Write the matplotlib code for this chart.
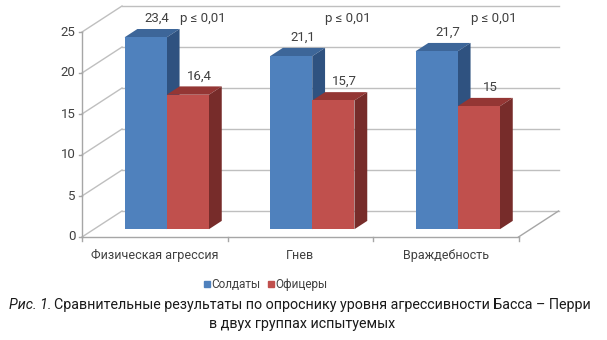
import matplotlib
matplotlib.use("Agg")
import matplotlib.pyplot as plt
from matplotlib.lines import Line2D

plt.rcParams['font.family'] = ['Roboto', 'DejaVu Sans']

categories = ['Физическая агрессия', 'Гнев', 'Враждебность']
soldiers = [23.4, 21.1, 21.7]
officers = [16.4, 15.7, 15.0]
series_names = ['Солдаты', 'Офицеры']
p_labels = ['p ≤ 0,01', 'p ≤ 0,01', 'p ≤ 0,01']
y_ticks = [0, 5, 10, 15, 20, 25]

# colours: front, top, side
BLUE = ('#4F81BD', '#3D6699', '#2F5280')
RED = ('#C0504D', '#943634', '#772C2A')
GRID = '#BFBFBF'
AXC = '#A6A6A6'
TXT = '#404040'

# oblique "3D" geometry in data units (x: category units, y: values)
DX, DY = 0.275, 3.17      # full depth of the floor / walls
F0, FB = 0.30, 0.32       # bar front depth fraction, bar depth fraction
W = 0.29                  # bar width
ymax = 25

fig = plt.figure(figsize=(6.07, 3.40), dpi=100)
ax = fig.add_axes([0, 0, 1, 1])
# map data to pixels: x px = 82 + 145.5*x, y px = 237 - 8.2*v
ax.set_xlim(-82 / 145.5, (607 - 82) / 145.5)
ax.set_ylim((237 - 340) / 8.2, 237 / 8.2)
ax.axis('off')

n = len(categories)

# back wall gridlines and left wall diagonals
for t in y_ticks:
    ax.plot([DX, n + DX], [t + DY, t + DY], color=GRID, lw=1, zorder=1)
    ax.plot([0, DX], [t, t + DY], color=GRID, lw=1, zorder=1)
    ax.plot([-0.02, 0], [t, t], color=AXC, lw=1, zorder=1)
    ax.text(-0.045, t, str(t), ha='right', va='center', fontsize=9.5, color=TXT)

# left axis and floor edges
ax.plot([0, 0], [0, ymax], color=AXC, lw=1, zorder=1)
ax.plot([0, n], [0, 0], color=AXC, lw=1, zorder=1)
ax.plot([n, n + DX], [0, DY], color=AXC, lw=1, zorder=1)
for i in range(n + 1):
    ax.plot([i, i], [0, -0.45], color=AXC, lw=1, zorder=1)

for i, cat in enumerate(categories):
    ax.text(i + 0.5, -2.2, cat, ha='center', va='center', fontsize=9, color=TXT)


def draw_bar(x0, val, cols):
    b = F0 * DY
    dx, dy = FB * DX, FB * DY
    top = b + val
    ax.fill([x0, x0 + W, x0 + W + dx, x0 + dx], [top, top, top + dy, top + dy],
            color=cols[1], lw=0, zorder=3)
    ax.fill([x0 + W, x0 + W + dx, x0 + W + dx, x0 + W], [b, b + dy, top + dy, top],
            color=cols[2], lw=0, zorder=3)
    ax.bar(x0, val, width=W, bottom=b, align='edge', color=cols[0], lw=0, zorder=3)
    lbl = f'{val:g}'.replace('.', ',')
    ax.text(x0 + W / 2 + dx * 0.9, top + dy + 0.5, lbl, ha='center', va='bottom',
            fontsize=9.5, color=TXT, zorder=5)


for i in range(n):
    c = i + 0.5 + F0 * DX
    draw_bar(c - W, soldiers[i], BLUE)
    draw_bar(c, officers[i], RED)
    ax.text(i + 0.5 + 0.33, 26.7, p_labels[i], ha='center', va='center',
            fontsize=9.5, color=TXT, zorder=5)

handles = [Line2D([], [], marker='s', ls='', color=BLUE[0], markersize=5),
           Line2D([], [], marker='s', ls='', color=RED[0], markersize=5)]
fig.legend(handles, series_names, loc='center', bbox_to_anchor=(0.438, 0.162),
           ncol=2, frameon=False, fontsize=8.5, handlelength=0.5, handletextpad=0.15,
           columnspacing=0.6, labelcolor=TXT)

# caption with italic prefix
CAP = 10.3
fig.canvas.draw()
r = fig.canvas.get_renderer()
y1 = 1 - 305 / 340
t1 = fig.text(9 / 607, y1, 'Рис. 1.', style='italic', fontsize=CAP, va='center', color='#1a1a1a')
w1 = t1.get_window_extent(r).width
fig.text((9 + w1 + 3) / 607, y1, 'Сравнительные результаты по опроснику уровня агрессивности Басса – Перри',
         fontsize=CAP, va='center', color='#1a1a1a')
fig.text(302 / 607, 1 - 324 / 340, 'в двух группах испытуемых', fontsize=CAP,
         ha='center', va='center', color='#1a1a1a')

fig.savefig('out.png', dpi=100)
